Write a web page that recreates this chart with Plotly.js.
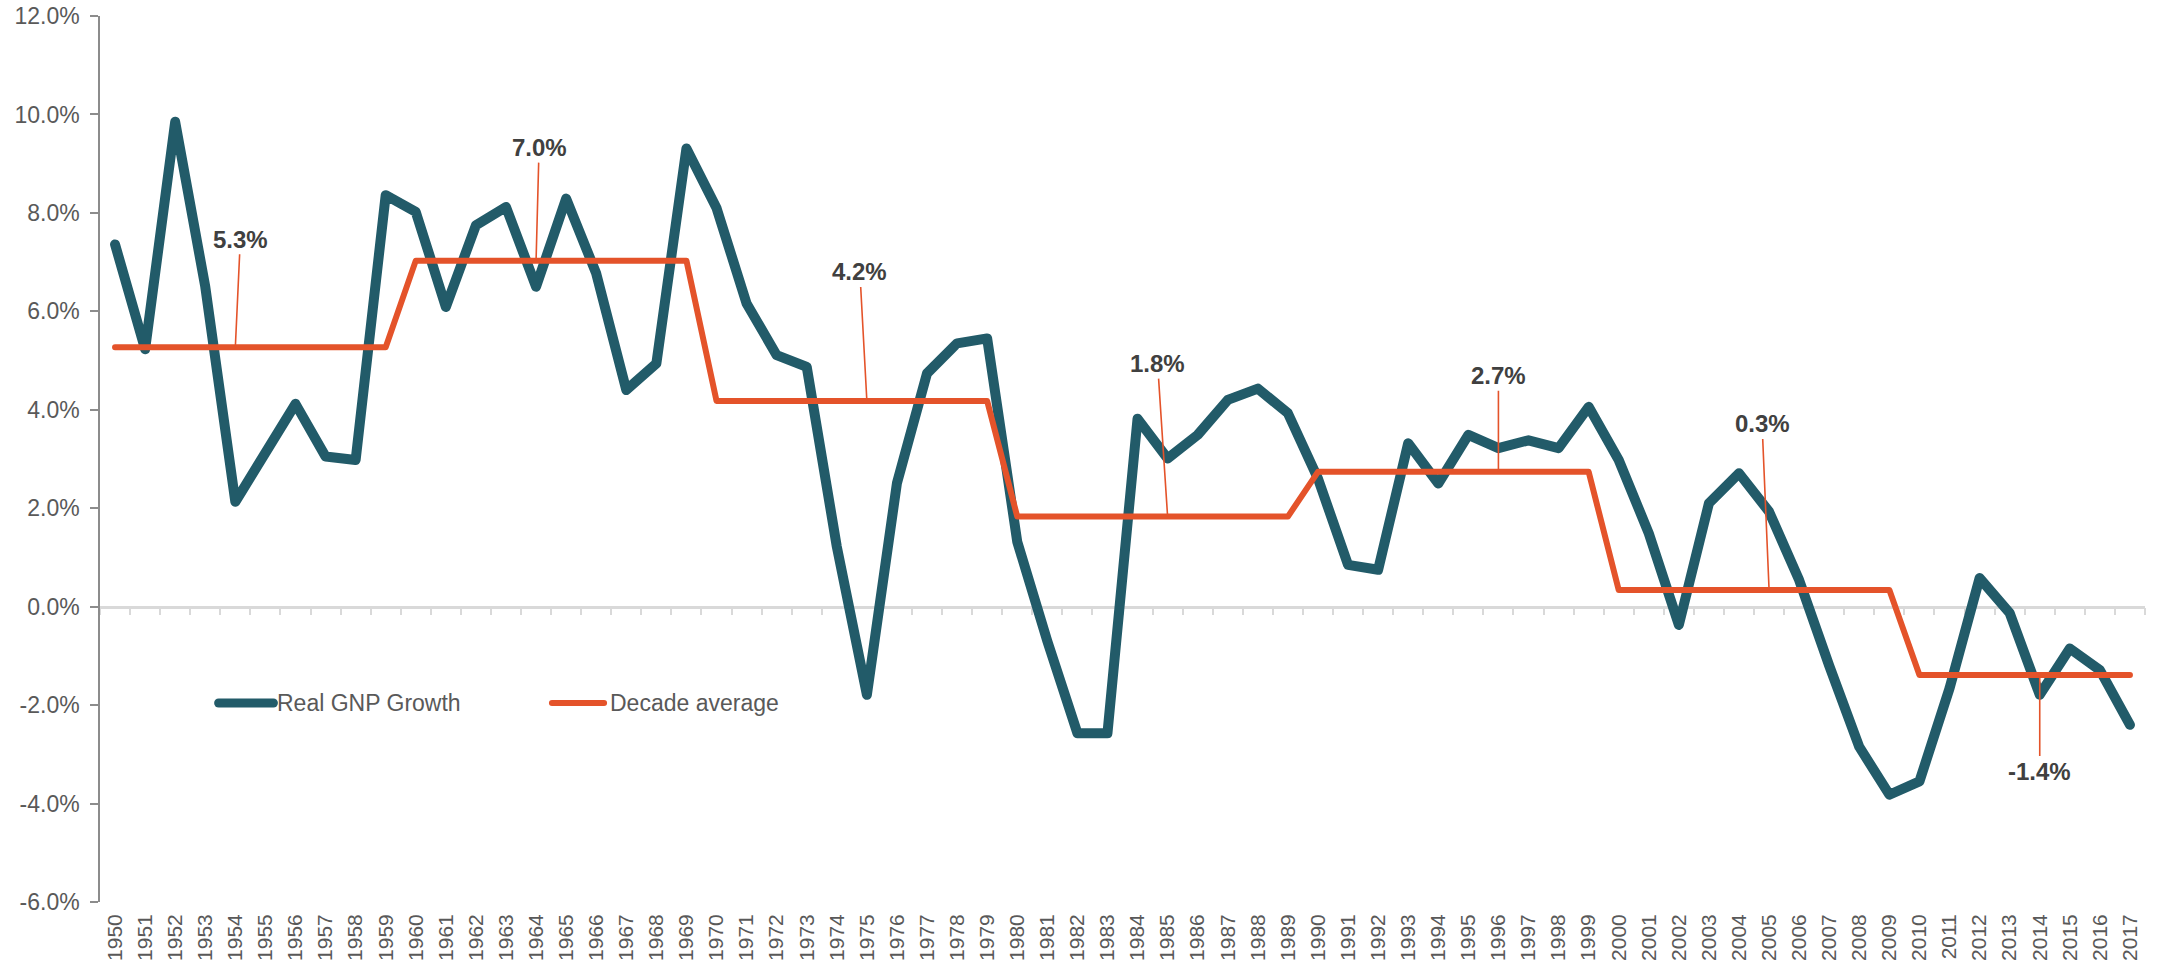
<!DOCTYPE html>
<html>
<head>
<meta charset="utf-8">
<script src="https://cdn.plot.ly/plotly-3.0.1.min.js"></script>
<style>
  html, body { margin: 0; padding: 0; background: #ffffff; }
  #chart { width: 2157px; height: 965px; }
  .scatterlayer path.js-line { stroke-linejoin: round; stroke-linecap: round; }
  .shapelayer path { stroke-linecap: round; }
</style>
</head>
<body>
<div id="chart"></div>
<script>
// ---- Data ----
const years = [1950,1951,1952,1953,1954,1955,1956,1957,1958,1959,
               1960,1961,1962,1963,1964,1965,1966,1967,1968,1969,
               1970,1971,1972,1973,1974,1975,1976,1977,1978,1979,
               1980,1981,1982,1983,1984,1985,1986,1987,1988,1989,
               1990,1991,1992,1993,1994,1995,1996,1997,1998,1999,
               2000,2001,2002,2003,2004,2005,2006,2007,2008,2009,
               2010,2011,2012,2013,2014,2015,2016,2017];

const realGnpGrowth = [7.36,5.23,9.85,6.50,2.13,3.11,4.12,3.05,2.98,8.36,
                       8.02,6.09,7.75,8.12,6.50,8.29,6.77,4.40,4.94,9.31,
                       8.10,6.16,5.11,4.87,1.22,-1.79,2.51,4.74,5.35,5.45,
                       1.32,-0.70,-2.57,-2.57,3.82,3.01,3.49,4.20,4.43,3.93,
                       2.60,0.85,0.75,3.32,2.50,3.49,3.22,3.38,3.22,4.06,
                       2.98,1.49,-0.37,2.10,2.71,1.93,0.54,-1.20,-2.85,-3.82,
                       -3.55,-1.66,0.58,-0.13,-1.79,-0.85,-1.29,-2.40];

const decadeAverage = [5.27,5.27,5.27,5.27,5.27,5.27,5.27,5.27,5.27,5.27,
                       7.03,7.03,7.03,7.03,7.03,7.03,7.03,7.03,7.03,7.03,
                       4.18,4.18,4.18,4.18,4.18,4.18,4.18,4.18,4.18,4.18,
                       1.83,1.83,1.83,1.83,1.83,1.83,1.83,1.83,1.83,1.83,
                       2.74,2.74,2.74,2.74,2.74,2.74,2.74,2.74,2.74,2.74,
                       0.34,0.34,0.34,0.34,0.34,0.34,0.34,0.34,0.34,0.34,
                       -1.39,-1.39,-1.39,-1.39,-1.39,-1.39,-1.39,-1.39];

// Decade average call-outs
const labelYears  = [1954, 1964, 1975, 1985, 1996, 2005, 2014];
const labelValues = [5.27, 7.03, 4.18, 1.83, 2.74, 0.34, -1.39];
const labelTexts  = ["5.3%", "7.0%", "4.2%", "1.8%", "2.7%", "0.3%", "-1.4%"];

const yTickVals = [-6, -4, -2, 0, 2, 4, 6, 8, 10, 12];
const yTickText = ["-6.0%", "-4.0%", "-2.0%", "0.0%", "2.0%", "4.0%", "6.0%", "8.0%", "10.0%", "12.0%"];
const xTickText = years.map(String);

const seriesNames = ["Real GNP Growth", "Decade average"];

// ---- Styles ----
const TEAL = "#225B69";
const ORANGE = "#E4532A";
const FONT = "Liberation Sans, Arial, sans-serif";
const GREY = "#595959";

const labelOffsets = [[5,-108],[3,-113],[-7,-129],[-10,-153],[0,-96],[-7,-166],[0,96]];

const traces = [
  {
    x: years, y: realGnpGrowth, name: seriesNames[0],
    type: "scatter", mode: "lines",
    line: { color: TEAL, width: 10 },
    xaxis: "x", yaxis: "y", showlegend: false, hoverinfo: "skip"
  },
  {
    x: years, y: decadeAverage, name: seriesNames[1],
    type: "scatter", mode: "lines",
    line: { color: ORANGE, width: 6 },
    xaxis: "x2", yaxis: "y", showlegend: false, hoverinfo: "skip"
  }
];

const annotations = labelTexts.map((t, i) => ({
  x: labelYears[i], y: labelValues[i], xref: "x", yref: "y",
  text: t, showarrow: true, arrowhead: 0, arrowwidth: 1.6, arrowcolor: ORANGE,
  ax: labelOffsets[i][0], ay: labelOffsets[i][1], standoff: 0,
  font: { family: FONT, size: 24, color: "#404040", weight: "bold" }
}));

// custom legend text
annotations.push({
  xref: "paper", yref: "paper", x: 0.0855, y: 0.2246, xanchor: "left", yanchor: "middle",
  text: seriesNames[0], showarrow: false,
  font: { family: FONT, size: 23, color: GREY }
});
annotations.push({
  xref: "paper", yref: "paper", x: 0.2485, y: 0.2246, xanchor: "left", yanchor: "middle",
  text: seriesNames[1], showarrow: false,
  font: { family: FONT, size: 23, color: GREY }
});

const shapes = [
  { type: "line", xref: "paper", yref: "paper", x0: 0.0580, x1: 0.0848, y0: 0.2246, y1: 0.2246,
    line: { color: TEAL, width: 9 } },
  { type: "line", xref: "paper", yref: "paper", x0: 0.2210, x1: 0.2465, y0: 0.2246, y1: 0.2246,
    line: { color: ORANGE, width: 6 } }
];

const layout = {
  width: 2157, height: 965,
  margin: { l: 100, r: 12, t: 16, b: 63 },
  paper_bgcolor: "#ffffff", plot_bgcolor: "#ffffff",
  font: { family: FONT, size: 22, color: GREY },
  showlegend: false,
  xaxis: {
    type: "linear", range: [1949.5, 2017.5],
    tickmode: "array", tickvals: years, ticktext: xTickText,
    tickangle: -90, ticks: "", showline: false, showgrid: false, zeroline: false,
    tickfont: { family: FONT, size: 21, color: GREY },
    ticklabelstandoff: 7, fixedrange: true
  },
  xaxis2: {
    type: "linear", range: [1949.5, 2017.5], overlaying: "x",
    anchor: "free", position: 1/3, side: "bottom", layer: "below traces",
    tickmode: "linear", tick0: 1949.5, dtick: 1,
    ticks: "outside", ticklen: 7, tickwidth: 1.5, tickcolor: "#D9D9D9",
    showline: true, linecolor: "#D9D9D9", linewidth: 2.5,
    showticklabels: false, showgrid: false, zeroline: false, fixedrange: true
  },
  yaxis: {
    range: [-6, 12], tickmode: "array", tickvals: yTickVals, ticktext: yTickText,
    ticks: "outside", ticklen: 8, tickwidth: 1.5, tickcolor: "#8C8C8C",
    showline: true, linecolor: "#8C8C8C", linewidth: 1.5,
    showgrid: false, zeroline: false,
    tickfont: { family: FONT, size: 23, color: GREY },
    ticklabelstandoff: 6, fixedrange: true
  },
  annotations: annotations,
  shapes: shapes
};

Plotly.newPlot("chart", traces, layout, { displayModeBar: false, responsive: false });
</script>
</body>
</html>
